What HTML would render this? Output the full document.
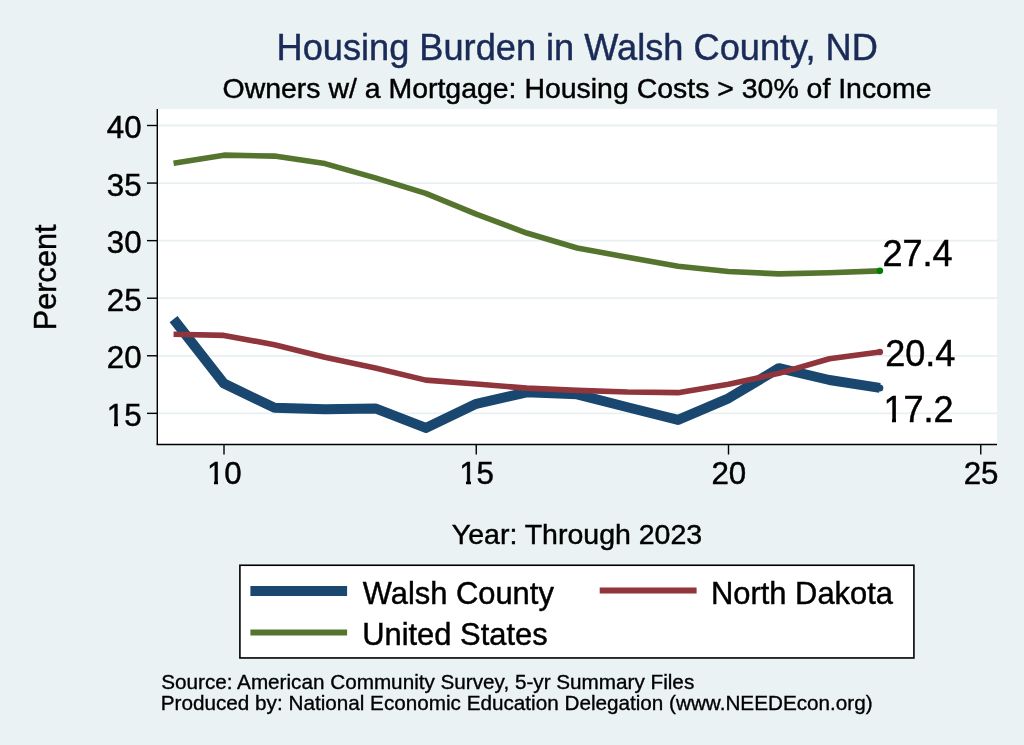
<!DOCTYPE html>
<html><head><meta charset="utf-8"><title>Housing Burden in Walsh County, ND</title>
<style>html,body{margin:0;padding:0;background:#eaf2f3;width:1024px;height:745px;overflow:hidden}svg{display:block}</style>
</head><body>
<svg width="1024" height="745" viewBox="0 0 1024 745" font-family="'Liberation Sans', Arial, Helvetica, sans-serif">
<rect x="0" y="0" width="1024" height="745" fill="#eaf2f3"/>
<rect x="157.5" y="109" width="839.5" height="335.5" fill="#fff"/>
<line x1="158" x2="997" y1="413.35" y2="413.35" stroke="#e8f0f2" stroke-width="1.8"/><line x1="158" x2="997" y1="355.78" y2="355.78" stroke="#e8f0f2" stroke-width="1.8"/><line x1="158" x2="997" y1="298.21" y2="298.21" stroke="#e8f0f2" stroke-width="1.8"/><line x1="158" x2="997" y1="240.64" y2="240.64" stroke="#e8f0f2" stroke-width="1.8"/><line x1="158" x2="997" y1="183.07" y2="183.07" stroke="#e8f0f2" stroke-width="1.8"/><line x1="158" x2="997" y1="125.50" y2="125.50" stroke="#e8f0f2" stroke-width="1.8"/>
<polyline points="173.55,319.16 224.00,383.56 274.45,407.83 324.90,409.32 375.35,408.40 425.80,427.95 476.25,403.80 526.70,392.30 577.15,394.37 627.60,407.25 678.05,419.90 728.50,398.28 778.95,368.15 829.40,380.00 879.85,387.93" fill="none" stroke="#1a476f" stroke-width="10" stroke-linejoin="round"/>
<polyline points="173.55,334.23 224.00,335.38 274.45,344.69 324.90,357.23 375.35,367.92 425.80,380.11 476.25,384.02 526.70,388.16 577.15,390.35 627.60,392.07 678.05,392.64 728.50,384.25 778.95,373.33 829.40,358.72 879.85,351.94" fill="none" stroke="#90353b" stroke-width="5.6" stroke-linejoin="round"/>
<polyline points="173.55,163.33 224.00,155.17 274.45,156.09 324.90,163.57 375.35,177.82 425.80,193.35 476.25,214.05 526.70,233.03 577.15,247.97 627.60,257.18 678.05,266.26 728.50,271.55 778.95,273.85 829.40,272.70 879.85,270.86" fill="none" stroke="#55752f" stroke-width="5.6" stroke-linejoin="round"/>
<circle cx="879.85" cy="387.93" r="3.5" fill="#1a476f"/>
<circle cx="879.85" cy="351.94" r="3.2" fill="#90353b"/>
<circle cx="879.85" cy="270.86" r="3.3" fill="#008000"/>
<line x1="157.3" x2="157.3" y1="109" y2="444.8" stroke="#000" stroke-width="1.4"/>
<line x1="156.6" x2="997" y1="444.45" y2="444.45" stroke="#000" stroke-width="1.4"/>
<line x1="147" x2="157.5" y1="413.35" y2="413.35" stroke="#000" stroke-width="1.4"/><line x1="147" x2="157.5" y1="355.78" y2="355.78" stroke="#000" stroke-width="1.4"/><line x1="147" x2="157.5" y1="298.21" y2="298.21" stroke="#000" stroke-width="1.4"/><line x1="147" x2="157.5" y1="240.64" y2="240.64" stroke="#000" stroke-width="1.4"/><line x1="147" x2="157.5" y1="183.07" y2="183.07" stroke="#000" stroke-width="1.4"/><line x1="147" x2="157.5" y1="125.50" y2="125.50" stroke="#000" stroke-width="1.4"/><line x1="224.00" x2="224.00" y1="444" y2="454.5" stroke="#000" stroke-width="1.4"/><line x1="476.25" x2="476.25" y1="444" y2="454.5" stroke="#000" stroke-width="1.4"/><line x1="728.50" x2="728.50" y1="444" y2="454.5" stroke="#000" stroke-width="1.4"/><line x1="980.75" x2="980.75" y1="444" y2="454.5" stroke="#000" stroke-width="1.4"/>
<g fill="#000" stroke="#000" stroke-width="0.45"><text x="141.6" y="425.85" text-anchor="end" font-size="31.3">15</text><text x="141.6" y="368.28" text-anchor="end" font-size="31.3">20</text><text x="141.6" y="310.71" text-anchor="end" font-size="31.3">25</text><text x="141.6" y="253.14" text-anchor="end" font-size="31.3">30</text><text x="141.6" y="195.57" text-anchor="end" font-size="31.3">35</text><text x="141.6" y="138.00" text-anchor="end" font-size="31.3">40</text><text x="224.30" y="484.2" text-anchor="middle" font-size="31.3">10</text><text x="476.55" y="484.2" text-anchor="middle" font-size="31.3">15</text><text x="728.80" y="484.2" text-anchor="middle" font-size="31.3">20</text><text x="981.05" y="484.2" text-anchor="middle" font-size="31.3">25</text>
<text x="882.4" y="266" font-size="36.1">27.4</text>
<text x="885.2" y="366" font-size="36.1">20.4</text>
<text x="883.4" y="421.9" font-size="36.1">17.2</text>
</g><rect x="107.66" y="421.90" width="6.34" height="5.15" fill="#eaf2f3"/><rect x="118.00" y="421.90" width="5.65" height="5.15" fill="#eaf2f3"/><rect x="207.77" y="480.25" width="6.23" height="5.15" fill="#eaf2f3"/><rect x="218.00" y="480.25" width="5.76" height="5.15" fill="#eaf2f3"/><rect x="460.02" y="480.25" width="5.98" height="5.15" fill="#eaf2f3"/><rect x="471.00" y="480.25" width="5.01" height="5.15" fill="#eaf2f3"/><rect x="884.64" y="417.59" width="7.36" height="5.51" fill="#fff"/><rect x="896.00" y="417.59" width="6.70" height="5.51" fill="#fff"/><g fill="#000" stroke="#000" stroke-width="0.45">
<text x="577" y="544" text-anchor="middle" font-size="28.5">Year: Through 2023</text>
<text transform="translate(55.8,277.3) rotate(-90)" x="0" y="0" text-anchor="middle" font-size="30.7">Percent</text>
<text x="577" y="98.4" text-anchor="middle" font-size="28.45">Owners w/ a Mortgage: Housing Costs &gt; 30% of Income</text>
</g>
<text x="577.2" y="59.9" text-anchor="middle" font-size="36.2" fill="#1b2b58" stroke="#1b2b58" stroke-width="0.45">Housing Burden in Walsh County, ND</text>
<rect x="239.9" y="565.25" width="674" height="92.7" fill="#fff" stroke="#000" stroke-width="1.6"/>
<line x1="250.4" x2="347.1" y1="591" y2="591" stroke="#1a476f" stroke-width="10"/>
<line x1="250.4" x2="347.1" y1="632.4" y2="632.4" stroke="#55752f" stroke-width="6"/>
<line x1="599.7" x2="696.6" y1="590.4" y2="590.4" stroke="#90353b" stroke-width="6"/>
<g fill="#000" stroke="#000" stroke-width="0.45" font-size="30.9">
<text x="362.7" y="604.2">Walsh County</text>
<text x="362.2" y="645.2">United States</text>
<text x="711" y="604.2">North Dakota</text>
</g>
<g fill="#000" stroke="#000" stroke-width="0.35" font-size="20.7">
<text x="161.2" y="688.7">Source: American Community Survey, 5-yr Summary Files</text>
<text x="160.8" y="709.6">Produced by: National Economic Education Delegation (www.NEEDEcon.org)</text>
</g>
</svg>
</body></html>
